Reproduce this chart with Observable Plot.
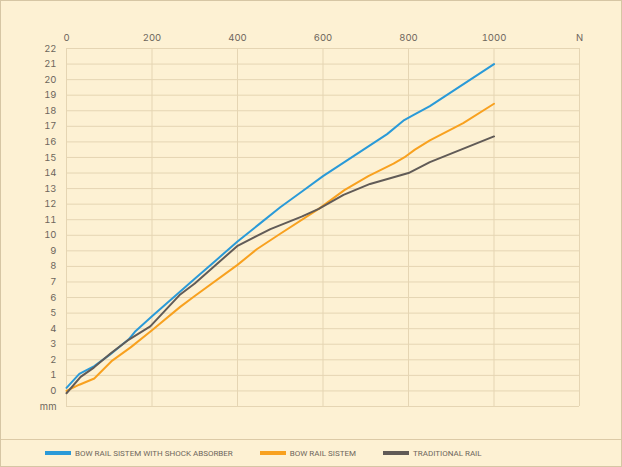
<!DOCTYPE html>
<html><head><meta charset="utf-8">
<script src="https://cdn.jsdelivr.net/npm/d3@7"></script>
<script src="https://cdn.jsdelivr.net/npm/@observablehq/plot@0.6"></script>
<style>
html,body{margin:0;padding:0;background:#e9e6e0;}
#card{box-sizing:border-box;width:622px;height:467px;border:1px solid #d6c6a4;background:#fdf1d3;position:relative;font-family:Inter,"Noto Sans",sans-serif;overflow:hidden;}
#chart{position:absolute;left:0;top:0;}
#chart svg{display:block;background:transparent;}
#legend{position:absolute;left:0;top:438px;width:620px;height:27px;border-top:1px solid #dccaa6;display:flex;align-items:center;padding-left:44px;box-sizing:border-box;}
.item{display:flex;align-items:center;margin-right:27px;}
.sw{width:26px;height:4px;margin-right:4px;}
.lb{font-family:Roboto,Inter,sans-serif;font-size:8px;color:#6e665c;letter-spacing:0;white-space:nowrap;}
</style></head>
<body>
<div id="card"><div id="chart"></div><div id="legend"></div></div>
<script>
const seriesNames = ["BOW RAIL SISTEM WITH SHOCK ABSORBER","BOW RAIL SISTEM","TRADITIONAL RAIL"];
const seriesColors = ["#2a9ad8","#f8a11f","#615b57"];

const shockLoad = [0,30,65,100,145,160,200,250,300,350,400,450,500,550,600,650,700,750,790,810,850,900,950,1000];
const shockDefl = [0.2,1.1,1.6,2.3,3.3,3.8,4.8,6.0,7.2,8.4,9.6,10.7,11.8,12.8,13.8,14.7,15.6,16.5,17.4,17.7,18.3,19.2,20.1,21.0];

const bowLoad = [0,30,65,107,150,200,266,300,400,445,500,590,650,706,765,790,815,850,928,1000];
const bowDefl = [0,0.4,0.8,1.95,2.8,3.9,5.4,6.1,8.1,9.1,10.1,11.7,12.9,13.8,14.6,15.0,15.5,16.1,17.2,18.45];

const tradLoad = [0,33,64,103,146,196,266,300,399,477,550,590,648,710,800,850,1000];
const tradDefl = [-0.15,0.9,1.5,2.4,3.3,4.15,6.2,6.9,9.3,10.4,11.2,11.7,12.6,13.3,14.0,14.7,16.35];

const xTicks = [0,200,400,600,800,1000,1200];
const xTickLabels = ["0","200","400","600","800","1000","N"];
const yTicks = d3.range(-1,23);
const yTickLabels = ["mm"].concat(d3.range(0,23).map(String));

const toRows = (xs, ys, s) => xs.map((x,i) => ({load:x, defl:ys[i], series:s}));
const rows = [
  ...toRows(shockLoad, shockDefl, seriesNames[0]),
  ...toRows(bowLoad, bowDefl, seriesNames[1]),
  ...toRows(tradLoad, tradDefl, seriesNames[2])
];

const chart = Plot.plot({
  width: 620,
  height: 438,
  marginLeft: 65,
  marginRight: 42,
  marginTop: 47,
  marginBottom: 33,
  style: {background:"transparent", fontFamily:"Inter, 'Noto Sans', sans-serif", fontSize:"9.5px", color:"#6d665c"},
  x: {domain:[0,1200], label:null},
  y: {domain:[-1,22], label:null},
  color: {domain: seriesNames, range: seriesColors},
  marks: [
    Plot.ruleY(yTicks, {stroke:"#e5d5b3", strokeWidth:1, strokeOpacity:1}),
    Plot.ruleX(xTicks, {stroke:"#e5d5b3", strokeWidth:1, strokeOpacity:1}),
    Plot.axisX({anchor:"top", ticks:xTicks, tickFormat:(d)=>xTickLabels[xTicks.indexOf(d)], tickSize:0, tickPadding:8, label:null, fill:"#6d665c"}),
    Plot.axisY({anchor:"left", ticks:yTicks, tickFormat:(d)=>yTickLabels[yTicks.indexOf(d)], tickSize:0, tickPadding:10, label:null, fill:"#6d665c"}),
    Plot.line(rows, {x:"load", y:"defl", z:"series", stroke:"series", strokeWidth:2, strokeLinejoin:"round"})
  ]
});
document.getElementById("chart").appendChild(chart);

const legend = document.getElementById("legend");
seriesNames.forEach((n,i) => {
  const it = document.createElement("div"); it.className="item";
  const sw = document.createElement("div"); sw.className="sw"; sw.style.background=seriesColors[i];
  const lb = document.createElement("span"); lb.className="lb"; lb.textContent=n;
  it.appendChild(sw); it.appendChild(lb); legend.appendChild(it);
});
</script>
</body></html>
